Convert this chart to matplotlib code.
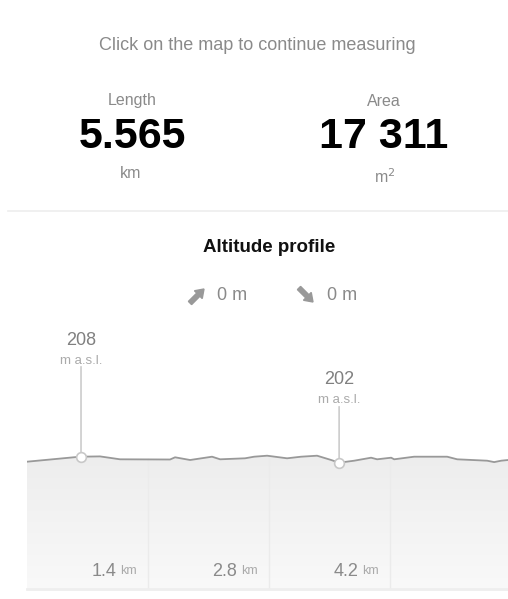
import numpy as np
import matplotlib
matplotlib.use("Agg")
import matplotlib.pyplot as plt
from matplotlib.lines import Line2D
from matplotlib.patches import FancyArrow
from matplotlib.transforms import offset_copy, IdentityTransform

plt.rcParams['font.family'] = ['Liberation Sans', 'DejaVu Sans']

# summary values
header = "Click on the map to continue measuring"
length_value = "5.565"
length_unit = "km"
area_value = "17 311"
area_unit = "m$^2$"
ascent_m = 0
descent_m = 0

# altitude profile (distance in km, altitude in m a.s.l.)
dist_km = [0.0, 0.613, 0.845, 1.076, 1.655, 1.713, 1.887, 2.141, 2.234, 2.523,
           2.627, 2.778, 3.009, 3.171, 3.356, 3.519, 3.611, 3.785, 3.981, 4.051,
           4.213, 4.248, 4.479, 4.861, 4.977, 5.324, 5.405, 5.486, 5.565]
alt_m = [203.0, 208.0, 208.3, 205.4, 205.2, 207.4, 204.7, 208.0, 205.4, 206.4,
         208.0, 209.0, 206.4, 208.0, 209.0, 204.7, 202.0, 204.0, 207.0, 205.4,
         207.0, 205.4, 208.0, 208.0, 205.4, 204.0, 202.6, 204.0, 204.7]
tick_km = [1.4, 2.8, 4.2]

# highlighted points
max_km, max_alt = 0.625, 208
min_km, min_alt = 3.611, 202

W, H = 508, 599
fig = plt.figure(figsize=(W / 100, H / 100), dpi=100)
fig.patch.set_facecolor("white")


def px(x, y):
    return x / W, 1 - y / H


# top summary block
fig.text(*px(257, 45), header, ha="center", va="center", fontsize=13, color="#8a8a8a")
fig.text(*px(132, 101), "Length", ha="center", va="center", fontsize=11.5, color="#8a8a8a")
fig.text(*px(132, 137), length_value, ha="center", va="center", fontsize=31,
         fontweight="bold", color="black")
fig.text(*px(131, 174), length_unit, ha="center", va="center", fontsize=11.5, color="#8a8a8a")
fig.text(*px(384, 101), "Area", ha="center", va="center", fontsize=11.5, color="#8a8a8a")
fig.text(*px(384, 137), area_value, ha="center", va="center", fontsize=31,
         fontweight="bold", color="black")
fig.text(*px(385, 177), area_unit, ha="center", va="center", fontsize=11.5, color="#8a8a8a")

fig.add_artist(Line2D([8 / W, 1], [1 - 211 / H] * 2, color="#ededed", lw=1.2))

fig.text(*px(269, 247), "Altitude profile", ha="center", va="center", fontsize=13.5,
         fontweight="bold", color="#111111")

# ascent / descent icons (pixel coords, y from bottom)
for x0, y0, dx, dy in [(190, H - 303, 14, 14), (299, H - 288, 14, -14)]:
    fig.add_artist(FancyArrow(x0, y0, dx, dy, width=4.5, head_width=11, head_length=8,
                              length_includes_head=True, color="#999999",
                              transform=IdentityTransform()))
fig.text(*px(217, 295), "%d m" % ascent_m, ha="left", va="center", fontsize=13, color="#8a8a8a")
fig.text(*px(327, 295), "%d m" % descent_m, ha="left", va="center", fontsize=13, color="#8a8a8a")

# chart
ax = fig.add_axes([27 / W, 1 - 589 / H, 1 - 27 / W, (589 - 300) / H])
ylo, yhi = 75.7, 364.7
ax.set_xlim(0, dist_km[-1])
ax.set_ylim(ylo, yhi)
ax.axis("off")

poly = ax.fill_between(dist_km, alt_m, ylo, facecolor="none", edgecolor="none")
grad = np.linspace(0, 1, 256).reshape(-1, 1)
img = ax.imshow(grad, extent=[0, dist_km[-1], ylo, max(alt_m)], origin="lower",
                cmap=matplotlib.colors.LinearSegmentedColormap.from_list(
                    "g", ["#f9f9f9", "#ededed"]),
                aspect="auto", zorder=1)
img.set_clip_path(poly.get_paths()[0], transform=ax.transData)

for t in tick_km:
    top = np.interp(t, dist_km, alt_m)
    ax.plot([t, t], [ylo, top], color="#ebebeb", lw=1, zorder=2)
    tr = offset_copy(ax.transData, fig=fig, x=-11, y=0, units="dots")
    ax.text(t, ylo + 18, "km", transform=tr, ha="right", va="center",
            fontsize=9, color="#aaaaaa", zorder=3)
    tr2 = offset_copy(ax.transData, fig=fig, x=-32, y=0, units="dots")
    ax.text(t, ylo + 18, "%.1f" % t, transform=tr2, ha="right", va="center",
            fontsize=13, color="#8a8a8a", zorder=3)

ax.plot([0, dist_km[-1]], [ylo, ylo], color="#eeeeee", lw=2, clip_on=False, zorder=2)
ax.plot(dist_km, alt_m, color="#999999", lw=1.3, zorder=4)

for xk, ya, lab_off, unit_off, line_off in [(max_km, max_alt, 116, 96, 90),
                                            (min_km, min_alt, 83, 63, 56)]:
    ax.annotate("", xy=(xk, ya), xytext=(0, line_off), textcoords="offset pixels",
                arrowprops=dict(arrowstyle="-", color="#cccccc", lw=1.2,
                                shrinkA=0, shrinkB=0), zorder=5)
    ax.annotate("%d" % ya, xy=(xk, ya), xytext=(0, lab_off), textcoords="offset pixels",
                ha="center", va="center", fontsize=13, color="#808080")
    ax.annotate("m a.s.l.", xy=(xk, ya), xytext=(0, unit_off), textcoords="offset pixels",
                ha="center", va="center", fontsize=9.5, color="#aaaaaa")
    ax.plot([xk], [ya], "o", ms=7, mfc="white", mec="#c8c8c8", mew=1.2, zorder=6)

fig.savefig("out.png", dpi=100)
